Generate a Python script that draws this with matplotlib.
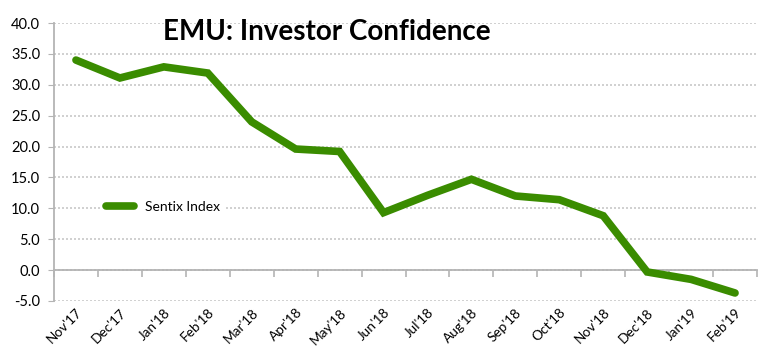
import numpy as np
import matplotlib
matplotlib.use("Agg")
import matplotlib.pyplot as plt
from matplotlib.ticker import FixedLocator, FormatStrFormatter

# data
months = ["Nov'17", "Dec'17", "Jan'18", "Feb'18", "Mar'18", "Apr'18", "May'18", "Jun'18",
          "Jul'18", "Aug'18", "Sep'18", "Oct'18", "Nov'18", "Dec'18", "Jan'19", "Feb'19"]
sentix = [34.0, 31.1, 32.9, 31.9, 24.0, 19.6, 19.2, 9.3,
          12.1, 14.7, 12.0, 11.4, 8.8, -0.3, -1.5, -3.7]
yticks = [-5, 0, 5, 10, 15, 20, 25, 30, 35, 40]

plt.rcParams['font.family'] = ['Lato', 'DejaVu Sans']

fig = plt.figure(figsize=(7.72, 3.63), dpi=100)
ax = fig.add_axes([54/772, 1-301/363, (757-54)/772, (301-23)/363])

x = np.arange(len(months))
ax.plot(x, sentix, color='#3a8c00', lw=5.5, solid_capstyle='round',
        solid_joinstyle='miter', label='Sentix Index', zorder=3)

ax.set_xlim(-0.5, len(months) - 0.5)
ax.set_ylim(-5, 40)

# grid
ax.set_yticks(yticks)
ax.yaxis.set_major_formatter(FormatStrFormatter('%.1f'))
ax.grid(axis='y', color='#c8c8c8', linestyle=(0, (1.2, 1.2)), lw=1.2)
ax.set_axisbelow(True)

# spines
for s in ['top', 'right']:
    ax.spines[s].set_visible(False)
ax.spines['left'].set_color('#b4b4b4')
ax.spines['left'].set_linewidth(1.3)
ax.spines['bottom'].set_position(('data', 0))
ax.spines['bottom'].set_color('#b4b4b4')
ax.spines['bottom'].set_linewidth(1.3)

ax.tick_params(axis='y', length=4, color='#b4b4b4', labelsize=10.5, pad=6, labelcolor='black')
ax.set_xticks(x)
ax.set_xticklabels(months, rotation=45, ha='right', rotation_mode='anchor')
ax.tick_params(axis='x', which='major', length=0, pad=26, labelsize=9.8)
ax.xaxis.set_minor_locator(FixedLocator(np.arange(len(months) + 1) - 0.5))
ax.tick_params(axis='x', which='minor', length=5, color='#b4b4b4', width=1.2)

leg = ax.legend(loc='upper left', bbox_to_anchor=(0.058, 0.40), frameon=True,
                framealpha=1, edgecolor='none', fontsize=10, handlelength=2.0,
                borderpad=0.3)

fig.text(327/772, 1-32/363, 'EMU: Investor Confidence', fontsize=20, fontweight='bold',
         ha='center', va='center')

fig.savefig('out.png', dpi=100)
